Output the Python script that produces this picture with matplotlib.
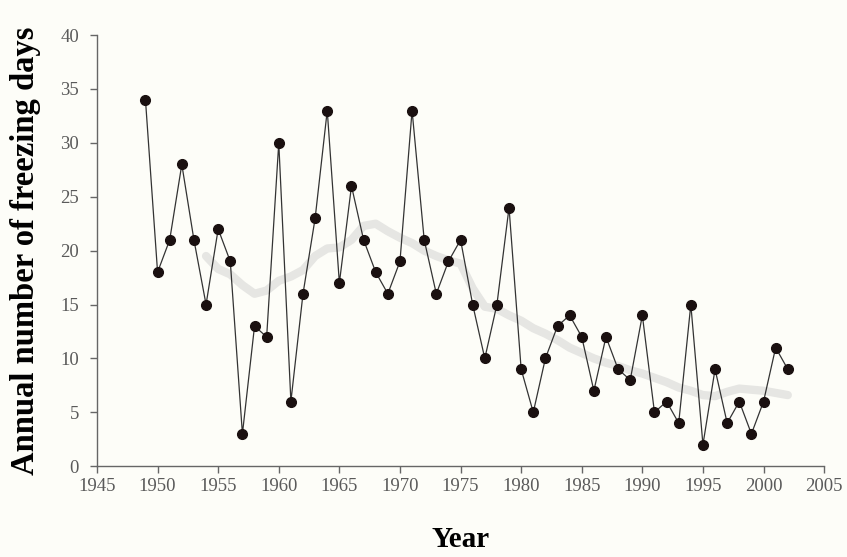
import numpy as np
import matplotlib.pyplot as plt

years = list(range(1949, 2003))
freezing_days = [34, 18, 21, 28, 21, 15, 22, 19, 3, 13,
                 12, 30, 6, 16, 23, 33, 17, 26, 21, 18,
                 16, 19, 33, 21, 16, 19, 21, 15, 10, 15,
                 24, 9, 5, 10, 13, 14, 12, 7, 12, 9,
                 8, 14, 5, 6, 4, 15, 2, 9, 4, 6,
                 3, 6, 11, 9]

# smoothed trend
trend_years = list(range(1954, 2003))
trend = [19.5, 18.3, 17.8, 16.8, 16.0, 16.3, 17.2, 17.6, 18.2, 19.5,
         20.2, 20.3, 21.0, 22.3, 22.5, 21.8, 21.2, 20.7, 20.0, 19.5,
         19.1, 18.8, 16.5, 14.8, 14.6, 14.0, 13.5, 12.8, 12.3, 11.7,
         11.0, 10.5, 10.0, 9.6, 9.3, 8.9, 8.6, 8.2, 7.8, 7.3,
         7.0, 6.6, 6.5, 6.9, 7.2, 7.1, 7.0, 6.8, 6.6]

plt.rcParams['font.family'] = ['Liberation Serif', 'DejaVu Serif']
bg = '#fdfdf8'

fig = plt.figure(figsize=(8.47, 5.57), dpi=100, facecolor=bg)
ax = fig.add_axes([0.1145, 0.163, 0.8585, 0.774], facecolor=bg)

ax.plot(trend_years, trend, color='#e6e6e3', lw=6, solid_capstyle='round', zorder=1)
ax.plot(years, freezing_days, color='#333333', lw=0.9, marker='o', ms=7,
        mfc='#1a1010', mec='#1a1010', zorder=2)

ax.set_xlim(1945, 2005)
ax.set_ylim(0, 40)
ax.set_xticks(np.arange(1945, 2006, 5))
ax.set_yticks(np.arange(0, 41, 5))

for s in ['top', 'right']:
    ax.spines[s].set_visible(False)
for s in ['left', 'bottom']:
    ax.spines[s].set_color('#666666')
    ax.spines[s].set_linewidth(1)
ax.tick_params(direction='out', length=5, width=1, color='#666666',
               labelsize=13.5, labelcolor='#5a5a5a')
ax.tick_params(axis='y', pad=8)

ax.set_xlabel('Year', fontsize=21, fontweight='bold', labelpad=22)
ax.set_ylabel('Annual number of freezing days', fontsize=23.5, fontweight='bold', labelpad=14)

fig.savefig('out.png', dpi=100, facecolor=bg)
